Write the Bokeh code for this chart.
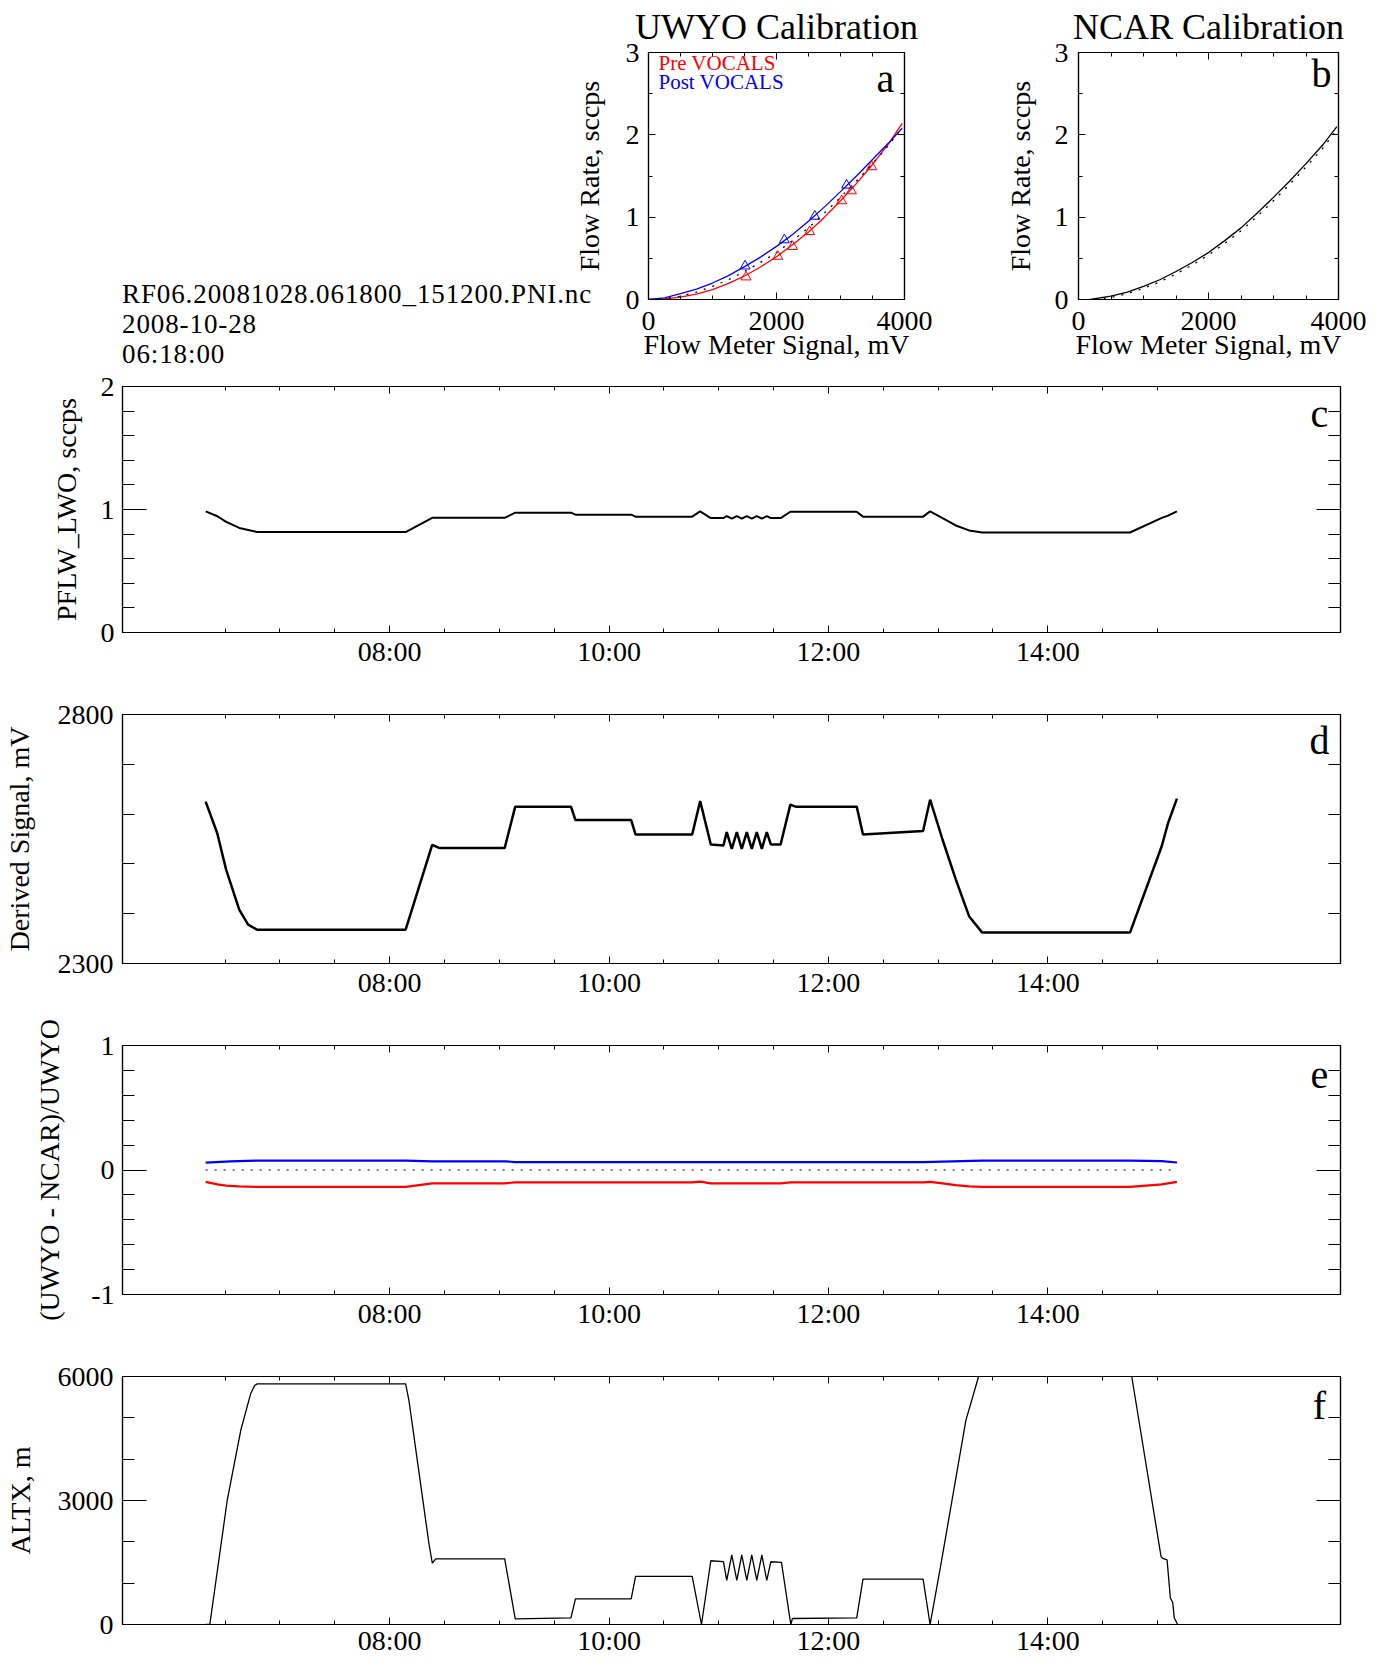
from bokeh.plotting import figure
from bokeh.models import FixedTicker, LinearAxis, Label, Range1d, Div, Spacer, CustomLabelingPolicy
from bokeh.layouts import column, row
from bokeh.embed import file_html
from bokeh.resources import INLINE

FONT = "Liberation Serif"

# ---------------- calibration panels (a, b) ----------------
cal_x = [0, 250, 500, 750, 1000, 1250, 1500, 1750, 2000, 2250, 2500, 2750, 3000, 3250, 3500, 3750, 3964]
pre_curve = [0, 0.008, 0.03, 0.065, 0.12, 0.195, 0.285, 0.395, 0.52, 0.665, 0.82, 1.0, 1.2, 1.41, 1.64, 1.89, 2.14]
post_curve = [0, 0.02, 0.07, 0.125, 0.2, 0.29, 0.40, 0.515, 0.645, 0.79, 0.95, 1.125, 1.31, 1.50, 1.70, 1.90, 2.08]
pre_pts_x = [1524, 2020, 2251, 2517, 3018, 3171, 3488]
pre_pts_y = [0.273, 0.523, 0.643, 0.824, 1.198, 1.319, 1.612]
post_pts_x = [1509, 2123, 2598, 3095]
post_pts_y = [0.406, 0.724, 1.01, 1.388]
ncar_x = [180, 500, 750, 1000, 1250, 1500, 1750, 2000, 2250, 2500, 2750, 3000, 3250, 3500, 3750, 3975]
ncar_curve = [0, 0.04, 0.09, 0.16, 0.24, 0.34, 0.45, 0.57, 0.715, 0.87, 1.05, 1.24, 1.44, 1.65, 1.87, 2.10]
ncar_dot_x = [250, 500, 750, 1000, 1250, 1500, 1750, 2000, 2250, 2500, 2750, 3000, 3250, 3500, 3750, 3975]
ncar_dot = [0, 0.025, 0.07, 0.135, 0.215, 0.31, 0.42, 0.54, 0.68, 0.835, 1.01, 1.20, 1.40, 1.61, 1.83, 2.06]

# ---------------- time series (hours UTC) ----------------
c_t = [6.323, 6.43, 6.51, 6.63, 6.79, 8.146, 8.388, 9.049, 9.145, 9.653, 9.694, 10.202, 10.242, 10.758,
       10.831, 10.928, 11.043, 11.073, 11.119, 11.165, 11.210, 11.256, 11.301, 11.347, 11.393, 11.438,
       11.475, 11.564, 11.653, 12.258, 12.315, 12.863, 12.927, 13.040, 13.161, 13.282, 13.402, 14.749,
       15.039, 15.096, 15.177]
c_flow = [0.985, 0.945, 0.90, 0.85, 0.817, 0.817, 0.932, 0.932, 0.974, 0.974, 0.958, 0.958, 0.942, 0.942,
          0.985, 0.930, 0.930, 0.947, 0.926, 0.947, 0.926, 0.947, 0.926, 0.947, 0.926, 0.947,
          0.930, 0.930, 0.982, 0.982, 0.942, 0.942, 0.985, 0.930, 0.870, 0.830, 0.813, 0.813,
          0.932, 0.950, 0.985]

d_t = [6.323, 6.428, 6.509, 6.629, 6.710, 6.791, 8.146, 8.388, 8.45, 9.049, 9.145, 9.653, 9.694, 10.202,
       10.242, 10.758, 10.831, 10.928, 11.043, 11.073, 11.119, 11.165, 11.210, 11.256, 11.301, 11.347,
       11.393, 11.438, 11.475, 11.564, 11.653, 11.70, 12.258, 12.315, 12.863, 12.927, 13.040, 13.161,
       13.282, 13.402, 14.749, 15.039, 15.096, 15.177]
d_signal = [2625, 2562, 2489, 2408, 2378, 2368, 2368, 2538, 2532, 2532, 2615, 2615, 2588, 2588,
            2559, 2559, 2626, 2539, 2537, 2564, 2530, 2564, 2530, 2564, 2530, 2564,
            2530, 2564, 2539, 2539, 2619, 2615, 2615, 2559, 2566, 2629, 2549, 2469,
            2395, 2362, 2362, 2536, 2582, 2631]

e_blue_t = [6.323, 6.55, 6.79, 8.146, 8.388, 9.049, 9.145, 12.863, 13.04, 13.40, 14.749, 15.039, 15.177]
e_blue = [0.059, 0.07, 0.076, 0.076, 0.070, 0.070, 0.064, 0.064, 0.068, 0.076, 0.076, 0.072, 0.060]
e_red_t = [6.323, 6.43, 6.51, 6.63, 6.79, 8.146, 8.388, 9.049, 9.145, 10.758, 10.831, 10.928, 11.564,
           11.653, 12.863, 12.927, 13.040, 13.161, 13.282, 13.402, 14.749, 15.039, 15.177]
e_red = [-0.096, -0.115, -0.125, -0.132, -0.136, -0.136, -0.107, -0.107, -0.099, -0.099, -0.093, -0.107, -0.107,
         -0.099, -0.099, -0.095, -0.108, -0.122, -0.132, -0.136, -0.136, -0.115, -0.096]
e_zero_t = [6.323, 15.177]
e_zero = [0, 0]

f_t = [6.322, 6.361, 6.52, 6.643, 6.733, 6.769, 6.793, 8.146, 8.176, 8.358, 8.389, 8.42, 9.049, 9.145,
       9.653, 9.694, 10.202, 10.242, 10.758, 10.843, 10.928, 11.043, 11.073, 11.119, 11.165, 11.210,
       11.256, 11.301, 11.347, 11.393, 11.438, 11.475, 11.572, 11.657, 11.672, 12.258, 12.315, 12.863,
       12.927, 13.025, 13.253, 13.369, 13.44, 14.73, 14.765, 15.032, 15.047, 15.087, 15.117, 15.138,
       15.153, 15.184]
f_alt = [0, 0, 3012, 4699, 5581, 5783, 5822, 5822, 5422, 1966, 1484, 1590, 1590, 137,
         160, 619, 619, 1165, 1165, 0, 1542, 1520, 1067, 1687, 1067, 1687,
         1067, 1687, 1067, 1687, 1067, 1518, 1501, 0, 145, 160, 1100, 1100,
         0, 1446, 4940, 6000, 6650, 6650, 6000, 1646, 1600, 1566, 641, 537,
         159, 0]

info_lines = ["RF06.20081028.061800_151200.PNI.nc", "2008-10-28", "06:18:00"]
title_a = "UWYO Calibration"
title_b = "NCAR Calibration"

# tick definitions
time_major = [8, 10, 12, 14]
time_minor = [6.5, 7, 7.5, 8.5, 9, 9.5, 10.5, 11, 11.5, 12.5, 13, 13.5, 14.5, 15]
time_labels = {8: "08:00", 10: "10:00", 12: "12:00", 14: "14:00"}
time_range = (5.565, 16.668)


def base_fig(w, h, xr, yr, bl, br, bt, bb):
    p = figure(width=w, height=h, x_range=Range1d(*xr), y_range=Range1d(*yr),
               min_border_left=bl, min_border_right=br, min_border_top=bt, min_border_bottom=bb,
               toolbar_location=None, output_backend="svg")
    p.xgrid.visible = False
    p.ygrid.visible = False
    p.outline_line_color = "black"
    p.outline_line_width = 1.2
    p.background_fill_color = "white"
    p.border_fill_color = "white"
    return p


def style_axis(ax, ticks, minor, labels, maj, mnr, standoff, label=None, label_standoff=0, show=True):
    ax.ticker = FixedTicker(ticks=ticks, minor_ticks=minor)
    ax.major_tick_in = maj
    ax.major_tick_out = 0
    ax.minor_tick_in = mnr
    ax.minor_tick_out = 0
    ax.major_tick_line_color = "black"
    ax.minor_tick_line_color = "black"
    ax.axis_line_color = "black"
    ax.axis_line_width = 1.2
    ax.major_label_overrides = labels
    ax.major_label_text_font = FONT
    ax.major_label_text_color = "black"
    if show:
        ax.major_label_text_font_size = "28px"
        ax.major_label_standoff = standoff
    else:
        ax.major_label_text_font_size = "0px"
        ax.major_label_standoff = 0
        ax.major_label_policy = CustomLabelingPolicy(code="return []")
    if label:
        ax.axis_label = label
        ax.axis_label_text_font = FONT
        ax.axis_label_text_font_size = "28px"
        ax.axis_label_text_font_style = "normal"
        ax.axis_label_text_color = "black"
        ax.axis_label_standoff = label_standoff


def finish(p, xt, xm, xl, xmaj, xmin, yt, ym, yl, ymaj, ymin, xstand, ystand, xlabel, xls, ylabel, yls):
    style_axis(p.xaxis[0], xt, xm, xl, xmaj, xmin, xstand, xlabel, xls)
    style_axis(p.yaxis[0], yt, ym, yl, ymaj, ymin, ystand, ylabel, yls)
    top = LinearAxis()
    style_axis(top, xt, xm, xl, xmaj, xmin, 0, show=False)
    p.add_layout(top, "above")
    right = LinearAxis()
    style_axis(right, yt, ym, yl, ymaj, ymin, 0, show=False)
    p.add_layout(right, "right")


def letter(p, txt, x, y, dx, dy):
    p.add_layout(Label(x=x, y=y, x_offset=dx, y_offset=dy, text=txt, text_font=FONT,
                       text_font_size="40px", text_align="center", text_baseline="alphabetic",
                       text_color="black"))


def set_title(p, txt):
    p.title.text = txt
    p.title.text_font = FONT
    p.title.text_font_size = "36px"
    p.title.text_font_style = "normal"
    p.title.align = "center"
    p.title.vertical_align = "middle"
    p.title.standoff = 10
    p.title.text_color = "black"


cal_xt = [0, 2000, 4000]
cal_xm = [500, 1000, 1500, 2500, 3000, 3500]
cal_xl = {0: "0", 2000: "2000", 4000: "4000"}
cal_yt = [0, 1, 2, 3]
cal_ym = [0.5, 1.5, 2.5]
cal_yl = {0: "0", 1: "1", 2: "2", 3: "3"}

TOP_H = 370
INFO_W = 570

# ---------------- info text block ----------------
info = Div(text="<br>".join(info_lines), width=INFO_W, height=TOP_H - 279, margin=0,
           styles={"overflow": "visible", "white-space": "nowrap", "font-family": "'Liberation Serif'",
                   "font-size": "27px", "line-height": "30px", "letter-spacing": "0.9px",
                   "padding-left": "122px", "color": "black", "z-index": "5", "box-sizing": "border-box"})
info_col = column(Spacer(width=INFO_W, height=279, margin=0), info, spacing=0)

# ---------------- panel a ----------------
PA_W = 375
pa = base_fig(PA_W, TOP_H, (0, 4000), (0, 3), 73, 41, 51, 71)
pa.border_fill_color = None
set_title(pa, title_a)
finish(pa, cal_xt, cal_xm, cal_xl, 7, 4, cal_yt, cal_ym, cal_yl, 7, 4, 12, 9,
       "Flow Meter Signal, mV", -4, "Flow Rate, sccps", 18)
pa.line(cal_x, pre_curve, line_color="red", line_width=1.3)
pa.line(cal_x, post_curve, line_color="blue", line_width=1.3)
pa.line(ncar_x, ncar_curve, line_color="black", line_width=1.3, line_dash="2 7")
pa.scatter(pre_pts_x, pre_pts_y, marker="triangle", size=10, fill_color=None, line_color="red", line_width=1)
pa.scatter(post_pts_x, post_pts_y, marker="triangle", size=10, fill_color=None, line_color="blue", line_width=1)
pa.add_layout(Label(x=0, y=3, x_offset=10, y_offset=-10, text="Pre VOCALS", text_font=FONT,
                    text_font_size="21px", text_color="red", text_baseline="alphabetic"))
pa.add_layout(Label(x=0, y=3, x_offset=10, y_offset=-29, text="Post VOCALS", text_font=FONT,
                    text_font_size="21px", text_color="blue", text_baseline="alphabetic"))
letter(pa, "a", 4000, 3, -19, -26)

# ---------------- panel b ----------------
PB_W = 1387 - INFO_W - PA_W - 2
pb = base_fig(PB_W, TOP_H, (0, 4000), (0, 3), 133, PB_W - 133 - 260, 51, 71)
set_title(pb, title_b)
finish(pb, cal_xt, cal_xm, cal_xl, 7, 4, cal_yt, cal_ym, cal_yl, 7, 4, 12, 10,
       "Flow Meter Signal, mV", -4, "Flow Rate, sccps", 16)
pb.line(ncar_x, ncar_curve, line_color="black", line_width=1.3)
pb.line(ncar_dot_x, ncar_dot, line_color="black", line_width=1.3, line_dash="2 7")
letter(pb, "b", 4000, 3, -17, -21)

W = 1385
# ---------------- panel c ----------------
pc = base_fig(W, 304, time_range, (0, 2), 122, 45, 16, 42)
finish(pc, time_major, time_minor, time_labels, 7, 4,
       [0, 1, 2], [0.2, 0.4, 0.6, 0.8, 1.2, 1.4, 1.6, 1.8], {0: "0", 1: "1", 2: "2"}, 24, 12,
       3, 8, None, 0, "PFLW_LWO, sccps", 16)
pc.line(c_t, c_flow, line_color="black", line_width=2)
letter(pc, "c", time_range[1], 2, -21, -27)

# ---------------- panel d ----------------
pd_ = base_fig(W, 331, time_range, (2300, 2800), 122, 45, 40, 42)
finish(pd_, time_major, time_minor, time_labels, 7, 4,
       [2300, 2800], [2400, 2500, 2600, 2700], {2300: "2300", 2800: "2800"}, 24, 12,
       3, 9, None, 0, "Derived Signal, mV", 20)
pd_.line(d_t, d_signal, line_color="black", line_width=2.5)
letter(pd_, "d", time_range[1], 2800, -21, -26)

# ---------------- panel e ----------------
pe = base_fig(W, 331, time_range, (-1, 1), 122, 45, 40, 42)
finish(pe, time_major, time_minor, time_labels, 7, 4,
       [-1, 0, 1], [-0.8, -0.6, -0.4, -0.2, 0.2, 0.4, 0.6, 0.8], {-1: "-1", 0: "0", 1: "1"}, 24, 12,
       3, 8, None, 0, "(UWYO - NCAR)/UWYO", 23)
pe.line(e_zero_t, e_zero, line_color="black", line_width=1.2, line_dash="2 7")
pe.line(e_blue_t, e_blue, line_color="blue", line_width=2.2)
pe.line(e_red_t, e_red, line_color="red", line_width=2.2)
letter(pe, "e", time_range[1], 1, -21, -29)

# ---------------- panel f ----------------
pf = base_fig(W, 322, time_range, (0, 6000), 122, 45, 40, 33)
finish(pf, time_major, time_minor, time_labels, 7, 4,
       [0, 3000, 6000], [1000, 2000, 4000, 5000], {0: "0", 3000: "3000", 6000: "6000"}, 24, 12,
       0, 9, None, 0, "ALTX, m", 19)
pf.line(f_t, f_alt, line_color="black", line_width=1.3)
letter(pf, "f", time_range[1], 6000, -21, -29)

layout = column(row(info_col, pa, pb, spacing=0), pc, pd_, pe, pf, spacing=0)
open("out.html", "w").write(file_html(layout, INLINE))
